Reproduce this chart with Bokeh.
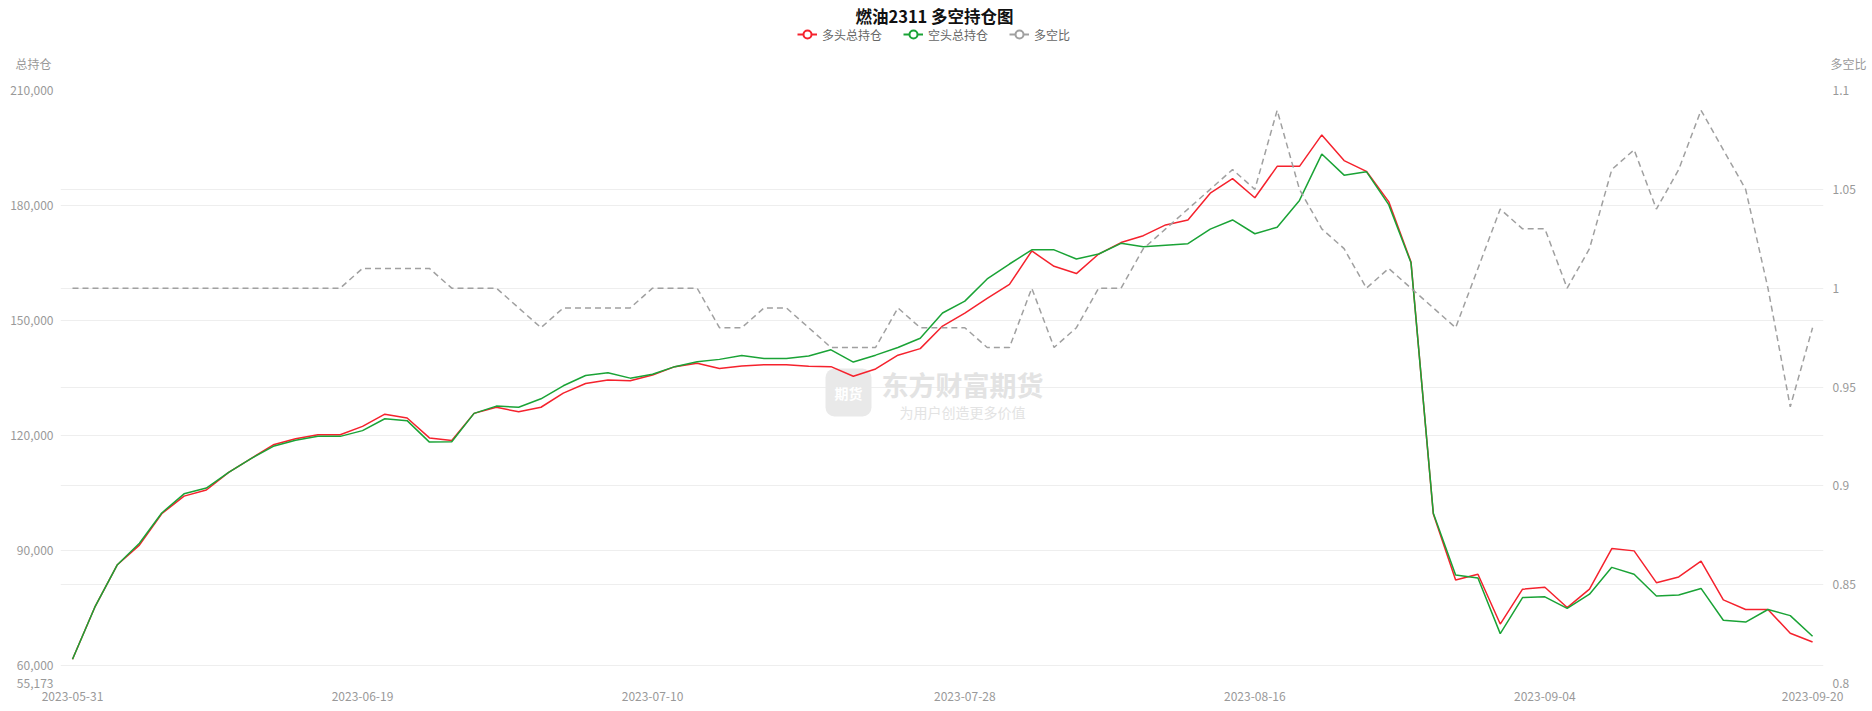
from bokeh.plotting import figure
from bokeh.layouts import column
from bokeh.models import (Range1d, LinearAxis, FixedTicker, NumeralTickFormatter, Grid,
                          Label, Legend, LegendItem, ColumnDataSource)
from bokeh.embed import file_html
from bokeh.resources import INLINE

# ---------------- data ----------------
dates = [
    "2023-05-31",
    "2023-06-01", "2023-06-02", "2023-06-05", "2023-06-06", "2023-06-07", "2023-06-08", "2023-06-09",
    "2023-06-12", "2023-06-13", "2023-06-14", "2023-06-15", "2023-06-16", "2023-06-19", "2023-06-20",
    "2023-06-21", "2023-06-26", "2023-06-27", "2023-06-28", "2023-06-29", "2023-06-30",
    "2023-07-03", "2023-07-04", "2023-07-05", "2023-07-06", "2023-07-07", "2023-07-10", "2023-07-11",
    "2023-07-12", "2023-07-13", "2023-07-14", "2023-07-17", "2023-07-18", "2023-07-19", "2023-07-20",
    "2023-07-21", "2023-07-24", "2023-07-25", "2023-07-26", "2023-07-27", "2023-07-28", "2023-07-31",
    "2023-08-01", "2023-08-02", "2023-08-03", "2023-08-04", "2023-08-07", "2023-08-08", "2023-08-09",
    "2023-08-10", "2023-08-11", "2023-08-14", "2023-08-15", "2023-08-16", "2023-08-17", "2023-08-18",
    "2023-08-21", "2023-08-22", "2023-08-23", "2023-08-24", "2023-08-25", "2023-08-28", "2023-08-29",
    "2023-08-30", "2023-08-31",
    "2023-09-01", "2023-09-04", "2023-09-05", "2023-09-06", "2023-09-07", "2023-09-08", "2023-09-11",
    "2023-09-12", "2023-09-13", "2023-09-14", "2023-09-15", "2023-09-18", "2023-09-19", "2023-09-20",
]

long_total = [  # 多头总持仓
    61500, 75100, 86100, 91300, 99500, 104100, 105700, 110300, 113900, 117500,
    119100, 120100, 120100, 122300, 125500, 124500, 119300, 118600, 125700, 127300,
    126100, 127300, 131000, 133500, 134400, 134200, 135700, 137900, 138800, 137400,
    138100, 138400, 138400, 138000, 137900, 135400, 137300, 140900, 142600, 148500,
    151900, 155700, 159400, 168100, 164100, 162200, 167300, 170300, 172100, 174900,
    176200, 183200, 187000, 182000, 190200, 190200, 198400, 191700, 188900, 181000,
    165200, 99400, 82200, 83700, 70700, 79800, 80300, 75000, 79800, 90400,
    89800, 81500, 83000, 87100, 77000, 74500, 74500, 68300, 66000,
]

short_total = [  # 空头总持仓
    61500, 75100, 86100, 91800, 99700, 104700, 106200, 110300, 113900, 117100,
    118700, 119700, 119700, 121200, 124300, 123800, 118200, 118300, 125700, 127600,
    127300, 129500, 132900, 135600, 136300, 134900, 135900, 137900, 139200, 139800,
    140800, 140000, 140000, 140700, 142300, 139100, 140900, 142900, 145300, 151900,
    155000, 160800, 164700, 168400, 168400, 166000, 167300, 170100, 169200, 169600,
    170000, 173800, 176200, 172600, 174300, 181300, 193400, 187900, 188800, 180200,
    165000, 99600, 83500, 82700, 68200, 77600, 77800, 74800, 78500, 85500,
    83700, 78000, 78300, 80000, 71700, 71200, 74500, 72900, 67500,
]

ls_ratio = [  # 多空比
    1.00, 1.00, 1.00, 1.00, 1.00, 1.00, 1.00, 1.00, 1.00, 1.00,
    1.00, 1.00, 1.00, 1.01, 1.01, 1.01, 1.01, 1.00, 1.00, 1.00,
    0.99, 0.98, 0.99, 0.99, 0.99, 0.99, 1.00, 1.00, 1.00, 0.98,
    0.98, 0.99, 0.99, 0.98, 0.97, 0.97, 0.97, 0.99, 0.98, 0.98,
    0.98, 0.97, 0.97, 1.00, 0.97, 0.98, 1.00, 1.00, 1.02, 1.03,
    1.04, 1.05, 1.06, 1.05, 1.09, 1.05, 1.03, 1.02, 1.00, 1.01,
    1.00, 0.99, 0.98, 1.01, 1.04, 1.03, 1.03, 1.00, 1.02, 1.06,
    1.07, 1.04, 1.06, 1.09, 1.07, 1.05, 1.00, 0.94, 0.98,
]

left_ticks = [55173, 60000, 90000, 120000, 150000, 180000, 210000]
right_ticks = [0.8, 0.85, 0.9, 0.95, 1.0, 1.05, 1.1]
x_label_idx = [0, 13, 26, 40, 53, 66, 78]

series_names = ["多头总持仓", "空头总持仓", "多空比"]
series_fields = ["long", "short", "ratio"]
series_colors = ["#f5222d", "#1aa336", "#a0a0a0"]
title_text = "燃油2311 多空持仓图"
left_name = "总持仓"
right_name = "多空比"
wm_main = "东方财富期货"
wm_sub = "为用户创造更多价值"
wm_icon = "期货"

FONT = "Noto Sans CJK SC"
W = 1872
HEAD_H = 80

idx = list(range(len(dates)))
src = ColumnDataSource(dict(i=idx, date=dates, long=long_total, short=short_total, ratio=ls_ratio))

# ---------------- header (title, legend, axis names) ----------------
head = figure(width=W, height=HEAD_H, output_backend="svg", toolbar_location=None,
              x_range=Range1d(0, 1), y_range=Range1d(0, 1),
              x_axis_location=None, y_axis_location=None,
              min_border_left=0, min_border_right=0, min_border_top=0, min_border_bottom=0,
              background_fill_color="white", border_fill_color="white", outline_line_color=None)
head.grid.visible = False

head.add_layout(Label(x=934, y=HEAD_H - 15, text=title_text, x_units="screen", y_units="screen",
                      text_align="center", text_baseline="middle", text_font=FONT,
                      text_font_size="16.5px", text_font_style="bold", text_color="#111111"))
head.add_layout(Label(x=33, y=HEAD_H - 63, text=left_name, x_units="screen", y_units="screen",
                      text_align="center", text_baseline="middle", text_font=FONT,
                      text_font_size="12px", text_color="#999999"))
head.add_layout(Label(x=1848, y=HEAD_H - 63, text=right_name, x_units="screen", y_units="screen",
                      text_align="center", text_baseline="middle", text_font=FONT,
                      text_font_size="12px", text_color="#999999"))

# legend: hidden renderers of the real series supply the icons (line + hollow circle)
items = []
for name, fld, col in zip(series_names, series_fields, series_colors):
    lr = head.line("i", fld, source=src, line_color=col, line_width=2, visible=False)
    sr = head.scatter("i", fld, source=src, marker="circle", fill_color="white",
                      line_color=col, line_width=2, visible=False)
    items.append(LegendItem(label=name, renderers=[lr, sr]))
legend = Legend(items=items, orientation="horizontal", location=(797, HEAD_H - 44),
                glyph_width=20, glyph_height=20, label_standoff=5, spacing=21,
                padding=0, margin=0, border_line_color=None, background_fill_alpha=0,
                inactive_fill_alpha=0,
                label_text_font=FONT, label_text_font_size="12px", label_text_color="#666666",
                label_height=20)
head.add_layout(legend)

# ---------------- main chart ----------------
p = figure(width=W, height=711 - HEAD_H, output_backend="svg", toolbar_location=None,
           x_range=Range1d(-0.538, 78.49), y_range=Range1d(left_ticks[0], left_ticks[-1]),
           min_border_left=60, min_border_right=49, min_border_top=90 - HEAD_H, min_border_bottom=28,
           background_fill_color="white", border_fill_color="white", outline_line_color=None)
p.extra_y_ranges = {"ratio": Range1d(right_ticks[0], right_ticks[-1])}

for fig in (head, p):
    try:
        fig.frame_align = False
    except AttributeError:
        pass

p.xgrid.visible = False
p.ygrid.ticker = FixedTicker(ticks=left_ticks)
p.ygrid.grid_line_color = "#eeeeee"
p.ygrid.grid_line_width = 1
g2 = Grid(dimension=1, ticker=FixedTicker(ticks=right_ticks), y_range_name="ratio",
          grid_line_color="#eeeeee", grid_line_width=1)
p.add_layout(g2)

def style_axis(ax, standoff):
    ax.axis_line_color = None
    ax.major_tick_line_color = None
    ax.minor_tick_line_color = None
    ax.major_tick_out = 0
    ax.major_tick_in = 0
    ax.minor_tick_out = 0
    ax.minor_tick_in = 0
    ax.major_label_text_color = "#999999"
    ax.major_label_text_font_size = "12px"
    ax.major_label_text_font = FONT
    ax.major_label_standoff = standoff

xa = p.xaxis[0]
xa.ticker = FixedTicker(ticks=x_label_idx)
xa.major_label_overrides = {i: dates[i] for i in x_label_idx}
style_axis(xa, 8)

ya = p.yaxis[0]
ya.ticker = FixedTicker(ticks=left_ticks)
ya.formatter = NumeralTickFormatter(format="0,0")
style_axis(ya, 7)

ra = LinearAxis(y_range_name="ratio", ticker=FixedTicker(ticks=right_ticks),
                formatter=NumeralTickFormatter(format="0.[00]"))
style_axis(ra, 9)
p.add_layout(ra, "right")

# watermark
common = dict(x_units="screen", y_units="screen", text_align="center", text_baseline="middle",
              text_font=FONT, level="underlay")
p.add_layout(Label(x=788, y=291, text=wm_icon, text_color="white", text_font_size="14px",
                   text_font_style="bold", background_fill_color="#e9e9e9",
                   padding=(9, 14), border_radius=9, **common))
p.add_layout(Label(x=902, y=299, text=wm_main, text_color="#e3e3e3", text_font_size="27px",
                   text_font_style="bold", **common))
p.add_layout(Label(x=902, y=272, text=wm_sub, text_color="#e3e3e3", text_font_size="14px",
                   **common))

# series
p.line("i", "long", source=src, line_color=series_colors[0], line_width=1.5)
p.line("i", "short", source=src, line_color=series_colors[1], line_width=1.5)
p.line("i", "ratio", source=src, line_color=series_colors[2], line_width=1.5,
       line_dash="6 4", y_range_name="ratio")

layout = column(head, p, spacing=0)
open("out.html", "w").write(file_html(layout, INLINE))
